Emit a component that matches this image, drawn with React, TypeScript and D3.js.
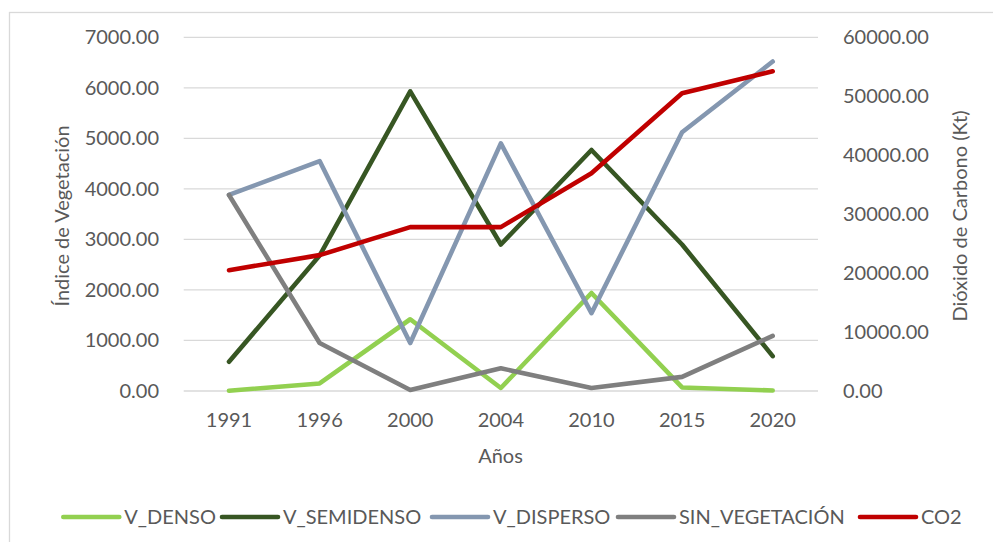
import React from "react";
import * as d3 from "d3";

const years = ["1991", "1996", "2000", "2004", "2010", "2015", "2020"];
const vDenso = [5, 150, 1420, 60, 1940, 70, 10];
const vSemidenso = [580, 2680, 5930, 2900, 4770, 2900, 690];
const vDisperso = [3880, 4550, 950, 4900, 1540, 5120, 6520];
const sinVegetacion = [3880, 950, 20, 450, 60, 280, 1090];
const co2 = [20500, 23050, 27800, 27800, 36950, 50500, 54240];

const leftTicks = [0, 1000, 2000, 3000, 4000, 5000, 6000, 7000];
const rightTicks = [0, 10000, 20000, 30000, 40000, 50000, 60000];

const seriesNames = ["V_DENSO", "V_SEMIDENSO", "V_DISPERSO", "SIN_VEGETACIÓN", "CO2"];
const seriesColors = ["#92D050", "#375623", "#8497B0", "#7F7F7F", "#C00000"];

const W = 993;
const H = 542;
const PL = 183.7;
const PR = 818;
const PT = 37.3;
const PB = 391;
const FONT = "Lato, 'Open Sans', sans-serif";
const TXT = "#595959";

export default function App() {
  const x = d3.scaleBand<string>().domain(years).range([PL, PR]);
  const cx = (d: string) => (x(d) as number) + x.bandwidth() / 2;
  const yL = d3.scaleLinear().domain([0, 7000]).range([PB, PT]);
  const yR = d3.scaleLinear().domain([0, 60000]).range([PB, PT]);

  const lineL = d3
    .line<number>()
    .x((_, i) => cx(years[i]))
    .y((v) => yL(v));
  const lineR = d3
    .line<number>()
    .x((_, i) => cx(years[i]))
    .y((v) => yR(v));

  const data = [vDenso, vSemidenso, vDisperso, sinVegetacion];

  const legendLines = [63.3, 222, 432, 618, 860];

  return (
    <svg
      width={W}
      height={H}
      style={{ position: "absolute", left: 0, top: 0, background: "#fff" }}
      fontFamily={FONT}
    >
      <rect x={0} y={0} width={W} height={H} fill="#fff" />
      <rect x={9.5} y={12.5} width={1000} height={600} fill="none" stroke="#D9D9D9" strokeWidth={1.3} />
      {leftTicks.map((t) => (
        <line key={t} x1={PL} x2={PR} y1={yL(t)} y2={yL(t)} stroke="#D9D9D9" strokeWidth={1.3} />
      ))}
      {leftTicks.map((t) => (
        <text key={t} x={159} y={yL(t)} dy="0.35em" textAnchor="end" fontSize={20} fill={TXT}>
          {t.toFixed(2)}
        </text>
      ))}
      {rightTicks.map((t) => (
        <text key={t} x={843} y={yR(t)} dy="0.35em" textAnchor="start" fontSize={20} fill={TXT}>
          {t.toFixed(2)}
        </text>
      ))}
      {years.map((yv) => (
        <text key={yv} x={cx(yv)} y={427} textAnchor="middle" fontSize={20} fill={TXT}>
          {yv}
        </text>
      ))}
      <text x={500.5} y={463} textAnchor="middle" fontSize={20} fill={TXT}>
        Años
      </text>
      <text
        transform={`translate(69,216) rotate(-90)`}
        textAnchor="middle"
        fontSize={20}
        fill={TXT}
      >
        Índice de Vegetación
      </text>
      <text
        transform={`translate(967,216) rotate(-90)`}
        textAnchor="middle"
        fontSize={20}
        fill={TXT}
      >
        Dióxido de Carbono (Kt)
      </text>
      {data.map((s, i) => (
        <path
          key={i}
          d={lineL(s) || ""}
          fill="none"
          stroke={seriesColors[i]}
          strokeWidth={4.6}
          strokeLinecap="round"
          strokeLinejoin="round"
        />
      ))}
      <path
        d={lineR(co2) || ""}
        fill="none"
        stroke={seriesColors[4]}
        strokeWidth={4.6}
        strokeLinecap="round"
        strokeLinejoin="round"
      />
      {seriesNames.map((n, i) => (
        <g key={n}>
          <line
            x1={legendLines[i]}
            x2={legendLines[i] + 56}
            y1={517}
            y2={517}
            stroke={seriesColors[i]}
            strokeWidth={4.6}
            strokeLinecap="round"
          />
          <text x={legendLines[i] + 61} y={517} dy="0.35em" fontSize={20} fill={TXT}>
            {n}
          </text>
        </g>
      ))}
    </svg>
  );
}
